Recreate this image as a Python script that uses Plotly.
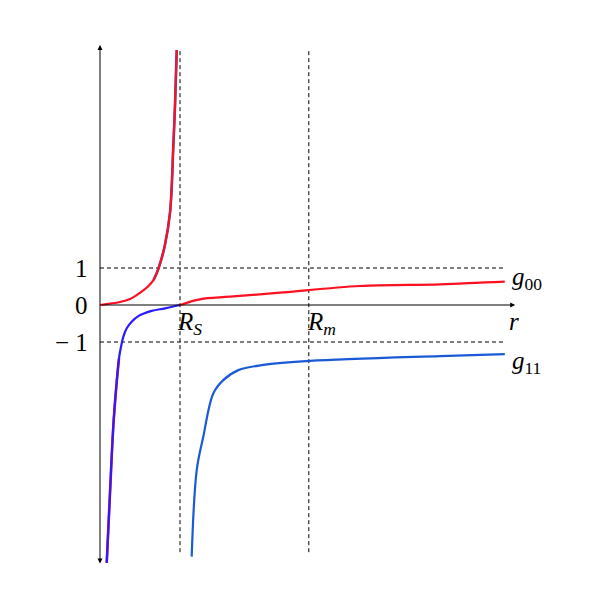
import plotly.graph_objects as go

# radial coordinate in units of R_S, metric components
r_g00_in = [0, 0.25, 0.375, 0.5, 0.6, 0.67, 0.72, 0.775, 0.81, 0.875, 0.916, 0.94, 0.959]
g00_in = [0, 0.08, 0.16, 0.33, 0.5, 0.68, 0.92, 1.30, 1.6, 2.49, 4.27, 5.54, 6.89]

r_g11_in = [1, 0.8125, 0.646, 0.479, 0.396, 0.334, 0.291, 0.2625, 0.2375, 0.2, 0.166, 0.125, 0.084]
g11_in = [0, -0.09, -0.16, -0.30, -0.45, -0.63, -0.86, -1.13, -1.44, -2.30, -3.29, -5.08, -6.97]

r_g00_out = [1, 1.25, 1.625, 2.25, 3.25, 4.25, 5.06]
g00_out = [0, 0.154, 0.224, 0.332, 0.514, 0.56, 0.63]

r_g11_out = [1.146, 1.209, 1.291, 1.416, 1.541, 1.729, 2.041, 2.625, 4.25, 5.06]
g11_out = [-6.80, -4.46, -3.56, -2.39, -2.03, -1.76, -1.62, -1.51, -1.38, -1.33]

R_S = 1
R_m = 2.61
r_end = 5.06
y_ticks = [1, 0, -1]
y_labels = ["1", "0", "\u2212 1"]

red = "#ff1020"
blue = "#2a1aff"
blue2 = "#1a5ad6"

fig = go.Figure()

# thin underlays peeking out from behind the curves
fig.add_trace(go.Scatter(x=r_g00_in[5:], y=g00_in[5:], mode="lines",
                         line=dict(color=blue2, width=2.6, shape="spline"), showlegend=False))
fig.add_trace(go.Scatter(x=r_g11_in[8:], y=g11_in[8:], mode="lines",
                         line=dict(color=red, width=2.6, shape="spline"), showlegend=False))

fig.add_trace(go.Scatter(x=r_g00_in, y=g00_in, mode="lines",
                         line=dict(color=red, width=2.2, shape="spline"), showlegend=False))
fig.add_trace(go.Scatter(x=r_g11_in, y=g11_in, mode="lines",
                         line=dict(color=blue, width=2.2, shape="spline"), showlegend=False))
fig.add_trace(go.Scatter(x=r_g00_out, y=g00_out, mode="lines",
                         line=dict(color=red, width=2.2, shape="spline"), showlegend=False))
fig.add_trace(go.Scatter(x=r_g11_out, y=g11_out, mode="lines",
                         line=dict(color=blue2, width=2.2, shape="spline"), showlegend=False))

dash = dict(color="black", width=1, dash="4px,3px")
for v in [1, -1]:
    fig.add_shape(type="line", x0=0, x1=r_end, y0=v, y1=v, line=dash, layer="below")
for v in [R_S, R_m]:
    fig.add_shape(type="line", x0=v, x1=v, y0=-6.68, y1=6.89, line=dash, layer="below")

# axes with arrows
fig.add_annotation(x=0, y=7.03, ax=0, ay=-7.03, xref="x", yref="y", axref="x", ayref="y",
                   text="", showarrow=True, arrowhead=2, arrowside="end+start",
                   arrowsize=1, arrowwidth=1, arrowcolor="black")
fig.add_annotation(x=5.19, y=0, ax=0, ay=0, xref="x", yref="y", axref="x", ayref="y",
                   text="", showarrow=True, arrowhead=2, arrowsize=1, arrowwidth=1,
                   arrowcolor="black")

font = dict(family="Liberation Serif", size=25, color="black")
for v, t in zip(y_ticks, y_labels):
    fig.add_annotation(x=-0.13, y=v, text=t, showarrow=False, xanchor="right", font=font)

fig.add_annotation(x=R_S + 0.12, y=-0.5, text="<i>R</i><sub><i>S</i></sub>", showarrow=False, font=font)
fig.add_annotation(x=R_m + 0.16, y=-0.5, text="<i>R</i><sub><i>m</i></sub>", showarrow=False, font=font)
fig.add_annotation(x=5.17, y=-0.45, text="<i>r</i>", showarrow=False, font=font)
fig.add_annotation(x=5.13, y=0.72, text="<i>g</i><sub>00</sub>", showarrow=False,
                   xanchor="left", font=font)
fig.add_annotation(x=5.13, y=-1.55, text="<i>g</i><sub>11</sub>", showarrow=False,
                   xanchor="left", font=font)

# page body adds an 8px offset, so the ranges are shifted to compensate
fig.update_layout(width=600, height=600, margin=dict(l=0, r=0, t=0, b=0),
                  paper_bgcolor="white", plot_bgcolor="white",
                  xaxis=dict(range=[-1.15, 6.35], visible=False),
                  yaxis=dict(range=[-8.189, 8.027], visible=False))

fig.write_html("out.html")
